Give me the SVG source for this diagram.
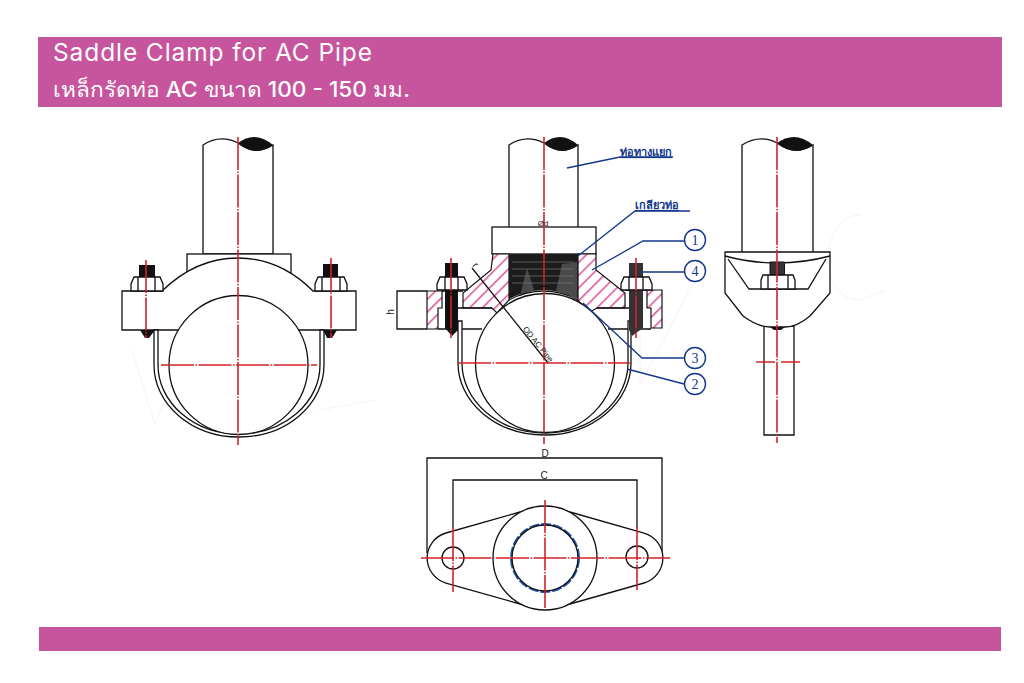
<svg xmlns="http://www.w3.org/2000/svg" width="1024" height="683" viewBox="0 0 1024 683">
<style>
.o{fill:none;stroke:#111;stroke-width:1.3}
.w{fill:#fff;stroke:#111;stroke-width:1.3}
.k{fill:#111;stroke:none}
.r{fill:none;stroke:#d2232a;stroke-width:1.6;stroke-dasharray:33 1.5 1.5 1.5}
.l{fill:none;stroke:#12378c;stroke-width:1.3}
.h{fill:url(#hatch);stroke:#111;stroke-width:1.2}
.c{fill:#fff;stroke:#12378c;stroke-width:1.4}
.n{font-family:"Liberation Serif",serif;font-size:14px;fill:#12378c;text-anchor:middle}
.t{font-family:"Noto Sans","Noto Sans CJK SC",sans-serif;fill:#12378c;font-size:11px;font-weight:700;text-decoration:underline}
.d{font-family:"Liberation Sans",sans-serif;font-size:8px;fill:#222;text-anchor:middle}
.d9{font-family:"Liberation Sans",sans-serif;font-size:10px;fill:#222;text-anchor:middle}
.wm{fill:none;stroke:#f4f4f4;stroke-width:1}
</style>
<defs>
<pattern id="hatch" width="9" height="9" patternUnits="userSpaceOnUse" patternTransform="rotate(-45)">
<rect width="9" height="9" fill="#fff"/><rect width="9" height="1.5" fill="#dc4f98"/>
</pattern>
</defs>
<rect width="1024" height="683" fill="#fff"/>
<g id="watermark">
<path class="wm" d="M132 350L155 425L185 350L205 405L240 315M290 325L320 410L375 400M640 280V385L700 270M860 215C820 215 815 300 860 300L885 290"/>
</g>
<g id="header">
<rect x="38" y="37" width="964" height="70" fill="#c7559d"/>
<text x="53" y="61" font-family="Inter,'Noto Sans',sans-serif" font-size="24.500" fill="#fff" textLength="319" lengthAdjust="spacing">Saddle Clamp for AC Pipe</text>
<text x="53" y="97" font-family="Inter,'Noto Sans','Noto Sans CJK SC',sans-serif" font-size="21" font-weight="500" fill="#fff" textLength="357" lengthAdjust="spacingAndGlyphs">เหล็กรัดท่อ AC ขนาด 100 - 150 มม.</text>
</g>
<g id="footer"><rect x="39" y="627" width="962" height="24" fill="#c7559d"/></g>

<g id="view-left">
<path class="w" d="M203 254V145Q220 134 238 143Q255 156 273 145V254Z"/>
<path class="k" d="M238 143Q255 130 273 145Q255 158 238 143Z"/>
<rect class="w" x="187" y="254" width="104" height="30"/>
<path class="w" d="M122 291H162Q196 258 238 258Q280 258 313 291H356V330H122Z"/>
<path class="w" d="M154 330V365A85 72 0 0 0 324 365V330H320V365A81 69 0 0 1 158 365V330Z"/>
<path class="k" d="M140 330H155L149 338H145ZM323 330H337L332 338H327Z"/>
<circle class="w" cx="238.500" cy="365" r="69.500"/>
<rect class="k" x="139" y="265" width="16" height="12"/>
<rect class="k" x="323" y="264" width="15" height="13"/>
<path class="w" d="M134 277H160L163 284V291H131V284ZM318 277H344L347 284V291H315V284Z"/>
<path class="o" d="M138 277V291M155 277V291M322 277V291M340 277V291"/>
<path class="r" d="M238 137V445M161 365H317M146 260V338M331 258V338"/>
</g>

<g id="view-center">
<path class="w" d="M509 254V145Q526 134 544 143Q561 156 578 145V254Z"/>
<path class="k" d="M544 143Q561 130 578 145Q561 158 544 143Z"/>
<rect class="w" x="492" y="227" width="104" height="27"/>
<path class="h" d="M493 254H509V300L497 313L492 308H463V293L491 270Z"/>
<path class="h" d="M578 254H596V270L625 293V308H597L588 313L578 300Z"/>
<path class="h" d="M427 291H442V308H438V329H427Z"/>
<path class="h" d="M647 290H662V328H651V308H647Z"/>
<path class="o" d="M427 291H397V329H427M442 291H463M625 290H647M458 308H492M597 308H629M438 329H482M608 329H651"/>
<path fill="#1c1c1c" d="M509 254H578V299A72 72 0 0 0 509 299Z"/>
<path fill="#4a4a4a" d="M520 296L527 268L534 290ZM556 291L562 264L577 262V298Z"/>
<path fill="none" stroke="#777" stroke-width="0.700" d="M512 262H574M512 269H574M512 276H574M512 283H574"/>
<path class="o" d="M509 300A72 72 0 0 1 578 300"/>
<path class="w" d="M458 321H462V363A83 70 0 0 0 628 363V321H631V363A86.500 72 0 0 1 458 363Z"/>
<path class="k" d="M445 290H458V330L452 336L445 328ZM445 263H458V277H445Z"/>
<path fill="#333" d="M629 290H643V328L632 336L629 330ZM629 263H643V277H629Z"/>
<circle class="w" cx="545" cy="363" r="69.500"/>
<path class="o" d="M472 268L548 363"/>
<path class="w" d="M440 277H464L467 284V290H437V284ZM624 277H649L652 284V290H621V284Z"/>
<path class="o" d="M445 277V290M458 277V290M629 277V290M643 277V290"/>
<path class="r" d="M544 137V444M458 363H630M451 258V338M636 258V338"/>
<text class="d" x="543" y="226">Ød</text>
<text class="d9" x="473" y="267" transform="rotate(51 473 267)">r</text>
<text class="d" x="536" y="346" transform="rotate(51 536 346)">OD AC Pipe</text>
<text class="d9" x="394" y="312" transform="rotate(-90 394 312)">h</text>
</g>

<g id="view-right">
<path class="w" d="M742 254V145Q760 134 777 143Q795 156 813 145V254Z"/>
<path class="k" d="M777 143Q795 130 813 145Q795 158 777 143Z"/>
<path class="w" d="M764 326H794V435H764Z"/>
<path class="w" d="M725 252H830V293L810 316Q797 327 785 327H770Q758 327 743 316L725 293Z"/>
<path class="o" d="M725 256Q777 270 830 256M728 259L749 289H808L826 259"/>
<path class="k" d="M770 327H785L781 330H774Z"/>
<path d="M770 262H784.500V275H770Z" fill="#333" stroke="#111"/>
<path class="w" d="M763 275H793L795 280V289H761V280Z"/>
<path class="o" d="M768 275V289M788 275V289"/>
<path class="r" d="M777 137V443"/>
<path fill="none" stroke="#d2232a" stroke-width="1.600" d="M756 362H775M781 362H800"/>
</g>

<g id="view-bottom">
<path class="o" d="M427 553V458H662V553M453 528V480H637V528"/>
<path class="w" d="M520 512L446 533A26 26 0 0 0 446 583L520 604H570L644 583A26 26 0 0 0 644 533L570 512Z"/>
<circle class="w" cx="545" cy="558" r="52"/>
<circle cx="545" cy="558" r="34" fill="#fff" stroke="#1f56b0" stroke-width="2" stroke-dasharray="10 2"/>
<circle class="o" cx="545" cy="558" r="33"/>
<circle class="w" cx="453" cy="558" r="11"/>
<circle class="w" cx="637" cy="557" r="11"/>
<path class="r" d="M545 500V610M421 558H670M453 528V592M637 527V590"/>
<text class="d9" x="545" y="457">D</text>
<text class="d9" x="544" y="479">C</text>
</g>

<g id="connectors">
<path class="l" d="M567 168L620 157H673"/>
<path class="l" d="M578 256L635 211H690"/>
<path class="l" d="M592 270L643 241H684"/>
<path class="l" d="M638 272H684"/>
<path class="l" d="M583 303L642 358H684"/>
<path class="l" d="M627 369L684 384"/>
</g>
<g id="labels">
<text class="t" x="620" y="156">ท่อทางแยก</text>
<text class="t" x="635" y="209">เกลียวท่อ</text>
</g>
<g id="callout-1"><circle class="c" cx="695" cy="240" r="10.500"/><text class="n" x="695" y="245">1</text></g>
<g id="callout-4"><circle class="c" cx="695" cy="271" r="10.500"/><text class="n" x="695" y="276">4</text></g>
<g id="callout-3"><circle class="c" cx="695" cy="358" r="10.500"/><text class="n" x="695" y="363">3</text></g>
<g id="callout-2"><circle class="c" cx="695" cy="384" r="10.500"/><text class="n" x="695" y="389">2</text></g>
</svg>
